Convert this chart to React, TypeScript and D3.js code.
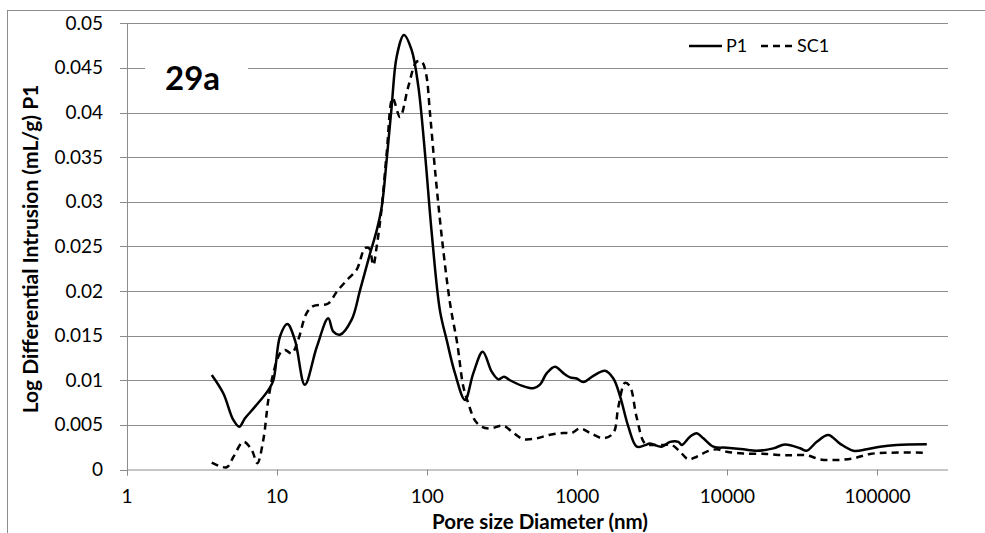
import React from "react";
import * as d3 from "d3";

const p1X = [3.67, 4.38, 5.11, 5.6, 6.11, 7.13, 8.74, 9.44, 10.45, 11.7, 13.15, 15.3, 18.4, 21.9, 23.7, 26.2, 31.4, 35.7, 41.6, 46.1, 49.8, 53.7, 58.0, 62.6, 70.0, 78.8, 87.3, 96.7, 107.2, 121.6, 134.9, 153, 178.6, 203, 234.4, 269, 298, 325, 356, 426, 509, 564, 626, 710, 807, 894, 991, 1097, 1279, 1531, 1739, 1928, 2188, 2489, 2800, 3049, 3648, 4149, 4714, 4966, 5637, 6243, 6915, 8060, 9890, 12760, 15670, 20230, 24210, 30500, 33700, 39400, 47000, 56200, 69000, 84700, 104000, 134000, 213000];
const p1Y = [0.0106, 0.00854, 0.00555, 0.0048, 0.00574, 0.00704, 0.0089, 0.01, 0.0149, 0.0163, 0.0145, 0.0095, 0.01376, 0.01694, 0.01544, 0.0151, 0.0168, 0.0201, 0.0242, 0.0268, 0.02945, 0.0347, 0.0407, 0.04626, 0.0487, 0.047, 0.0429, 0.0354, 0.0265, 0.0178, 0.0145, 0.0108, 0.0078, 0.0108, 0.0132, 0.01096, 0.0101, 0.0104, 0.01, 0.0094, 0.0091, 0.0095, 0.0108, 0.01152, 0.0108, 0.01033, 0.0102, 0.0098, 0.0105, 0.01107, 0.0102, 0.0082, 0.0048, 0.00256, 0.0027, 0.0029, 0.00256, 0.0031, 0.0031, 0.00275, 0.00368, 0.00405, 0.0035, 0.00256, 0.00244, 0.00226, 0.0021, 0.00237, 0.0028, 0.00238, 0.0021, 0.0031, 0.00387, 0.0029, 0.0021, 0.00226, 0.00256, 0.00275, 0.00282];

const sc1X = [3.67, 4.61, 5.11, 5.96, 6.77, 7.38, 8.09, 8.74, 9.44, 10.45, 11.3, 12.5, 13.8, 15.7, 17.4, 21.9, 24.9, 29.1, 33.9, 38.5, 41, 43.7, 46.1, 49.8, 53.7, 58.9, 65.9, 74.8, 85.1, 91.9, 98.1, 104.4, 112.7, 125, 142, 158.6, 174, 188, 208, 230.6, 262, 321, 375, 437, 537, 658, 807, 918, 1043, 1216, 1490, 1739, 1876, 2079, 2244, 2489, 2826, 3209, 3700, 4254, 4831, 5495, 6243, 7278, 8487, 9890, 12760, 18270, 23580, 27500, 33700, 41400, 53500, 69000, 89100, 121000, 213000];
const sc1Y = [0.00076, 0.00025, 0.0014, 0.0031, 0.0022, 0.0007, 0.0033, 0.0078, 0.0108, 0.013, 0.0134, 0.013, 0.0145, 0.0175, 0.0183, 0.0186, 0.0199, 0.0212, 0.0224, 0.0248, 0.0248, 0.0229, 0.025, 0.0294, 0.0354, 0.0416, 0.0395, 0.0429, 0.0457, 0.0457, 0.0444, 0.0399, 0.0336, 0.0261, 0.0186, 0.0141, 0.0093, 0.0074, 0.0055, 0.0048, 0.0046, 0.0049, 0.0041, 0.0034, 0.0035, 0.0039, 0.0041, 0.0041, 0.0046, 0.0041, 0.0035, 0.0041, 0.007, 0.0097, 0.0093, 0.0058, 0.0029, 0.00275, 0.00275, 0.00275, 0.002, 0.00114, 0.00143, 0.002, 0.00226, 0.002, 0.0018, 0.00174, 0.0016, 0.0016, 0.0016, 0.00114, 0.00106, 0.00125, 0.00174, 0.00188, 0.00188];

const xTicks = [1, 10, 100, 1000, 10000, 100000];
const xTickLabels = ["1", "10", "100", "1000", "10000", "100000"];
const yTicks = [0, 0.005, 0.01, 0.015, 0.02, 0.025, 0.03, 0.035, 0.04, 0.045, 0.05];
const yTickLabels = ["0", "0.005", "0.01", "0.015", "0.02", "0.025", "0.03", "0.035", "0.04", "0.045", "0.05"];

const seriesNames = ["P1", "SC1"];
const xTitle = "Pore size Diameter (nm)";
const yTitle = "Log Differential Intrusion (mL/g) P1";
const panelLabel = "29a";

const W = 985;
const H = 533;
const left = 127;
const right = 948;
const top = 23.3;
const bottom = 469.5;
const FONT = "Lato, 'Open Sans', sans-serif";
const GRID = "#8c8c8c";

export default function App() {
  const x = d3.scaleLog().domain([1, Math.pow(10, (right - left) / 150.1)]).range([left, right]);
  const y = d3.scaleLinear().domain([0, 0.05]).range([bottom, top]);

  const line = d3
    .line<[number, number]>()
    .x((d) => x(d[0]))
    .y((d) => y(d[1]))
    .curve(d3.curveCatmullRom.alpha(0.5));

  const p1 = p1X.map((v, i) => [v, p1Y[i]] as [number, number]);
  const sc1 = sc1X.map((v, i) => [v, sc1Y[i]] as [number, number]);

  return (
    <svg
      width={W}
      height={H}
      style={{ position: "absolute", left: 0, top: 0, background: "#fff" }}
    >
      <rect x={0} y={0} width={W} height={H} fill="#fff" />
      {/* outer frame (cropped) */}
      <rect x={7.5} y={10.5} width={W + 20} height={H + 20} fill="none" stroke={GRID} strokeWidth={1} />

      {/* gridlines */}
      {yTicks.map((t, i) =>
        t === 0 ? null : (
          <line key={"g" + i} x1={left} x2={right} y1={Math.round(y(t)) + 0.5} y2={Math.round(y(t)) + 0.5} stroke={GRID} strokeWidth={1} />
        )
      )}
      {/* axes */}
      <line x1={left + 0.5} x2={left + 0.5} y1={top} y2={bottom + 6} stroke={GRID} strokeWidth={1} />
      <line x1={left} x2={right} y1={bottom + 0.5} y2={bottom + 0.5} stroke={GRID} strokeWidth={1} />
      {yTicks.map((t, i) => (
        <line key={"yt" + i} x1={left - 7} x2={left} y1={Math.round(y(t)) + 0.5} y2={Math.round(y(t)) + 0.5} stroke={GRID} strokeWidth={1} />
      ))}
      {xTicks.map((t, i) => (
        <line key={"xt" + i} x1={Math.round(x(t)) + 0.5} x2={Math.round(x(t)) + 0.5} y1={bottom} y2={bottom + 6} stroke={GRID} strokeWidth={1} />
      ))}

      {/* tick labels */}
      {yTicks.map((t, i) => (
        <text key={"yl" + i} x={103} y={y(t) + 6.5} textAnchor="end" fontFamily={FONT} fontSize={19} fill="#000">
          {yTickLabels[i]}
        </text>
      ))}
      {xTicks.map((t, i) => (
        <text key={"xl" + i} x={x(t)} y={502.5} textAnchor="middle" fontFamily={FONT} fontSize={19} fill="#000">
          {xTickLabels[i]}
        </text>
      ))}

      {/* axis titles */}
      <text x={540} y={528.5} textAnchor="middle" fontFamily={FONT} fontWeight="bold" fontSize={20.5} fill="#000">
        {xTitle}
      </text>
      <text
        transform={`translate(38,249) rotate(-90)`}
        textAnchor="middle"
        fontFamily={FONT}
        fontWeight="bold"
        fontSize={21}
        fill="#000"
      >
        {yTitle}
      </text>

      {/* panel label */}
      <rect x={145} y={45} width={103} height={55} fill="#fff" />
      <text x={165} y={90} fontFamily={FONT} fontWeight="bold" fontSize={33} fill="#000">
        {panelLabel}
      </text>

      {/* series */}
      <path d={line(p1) || ""} fill="none" stroke="#000" strokeWidth={2.5} strokeLinejoin="round" />
      <path d={line(sc1) || ""} fill="none" stroke="#000" strokeWidth={2.5} strokeDasharray="7,5" />

      {/* legend */}
      <line x1={689} x2={722} y1={46} y2={46} stroke="#000" strokeWidth={2.5} />
      <text x={726} y={52} fontFamily={FONT} fontSize={18} fill="#000">
        {seriesNames[0]}
      </text>
      <line x1={761} x2={793} y1={46} y2={46} stroke="#000" strokeWidth={2.5} strokeDasharray="7,5" />
      <text x={797} y={52} fontFamily={FONT} fontSize={18} fill="#000">
        {seriesNames[1]}
      </text>
    </svg>
  );
}
